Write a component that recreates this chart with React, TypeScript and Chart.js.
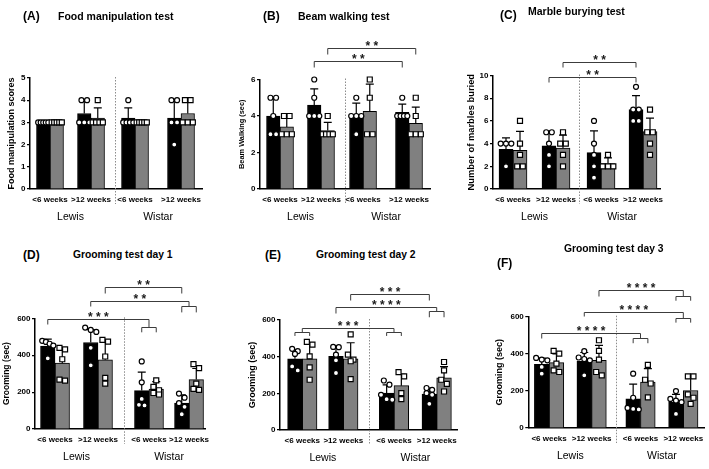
import React, { useEffect, useRef } from 'react';
import { Chart, registerables } from 'chart.js';

Chart.register(...registerables);

const FONT = '"Liberation Sans", Arial, Helvetica, sans-serif';
Chart.defaults.font.family = FONT;
Chart.defaults.color = '#000';

// ---------- shared labels ----------
const categories = ['<6 weeks', '>12 weeks', '<6 weeks', '>12 weeks'];
const groups = ['Lewis', 'Wistar'];

// ---------- (A) Food manipulation test ----------
const foodMeanBlack = [3.0, 3.4, 3.2, 3.2];
const foodMeanGray = [3.0, 3.2, 3.0, 3.4];
const foodSdBlack = [0, 0.55, 0.45, 0.84];
const foodSdGray = [0, 0.45, 0, 0.55];
const foodPtsBlack = [[3, 3, 3, 3, 3], [4, 4, 3, 3, 3], [4, 3, 3, 3, 3], [4, 4, 3, 3, 2]];
const foodPtsGray = [[3, 3, 3, 3, 3], [4, 3, 3, 3, 3], [3, 3, 3, 3, 3], [4, 4, 3, 3, 3]];

// ---------- (B) Beam walking test ----------
const beamMeanBlack = [4.0, 4.6, 4.0, 4.2];
const beamMeanGray = [3.4, 3.2, 4.25, 3.6];
const beamSdBlack = [1.0, 0.89, 0.71, 0.45];
const beamSdGray = [0.55, 0.45, 1.5, 0.89];
const beamPtsBlack = [[5, 5, 4, 3, 3], [6, 5, 4, 4, 4], [5, 4, 4, 4, 3], [5, 4, 4, 4, 4]];
const beamPtsGray = [[4, 4, 3, 3, 3], [4, 3, 3, 3, 3], [6, 5, 3, 3], [5, 4, 3, 3, 3]];

// ---------- (C) Marble burying test ----------
const marbleMeanBlack = [3.5, 3.8, 3.2, 7.0];
const marbleMeanGray = [3.4, 3.6, 2.25, 5.05];
const marbleSdBlack = [1.0, 1.3, 1.92, 1.22];
const marbleSdGray = [1.67, 1.14, 0.5, 1.2];
const marblePtsBlack = [[4, 4, 4, 2], [5, 5, 4, 3, 2], [6, 4, 3, 2, 1], [9, 7, 7, 6, 6]];
const marblePtsGray = [[6, 4, 3, 2, 2], [5, 4, 4, 3, 2], [3, 2, 2, 2], [7, 5, 5, 4, 3]];

// ---------- (D) Grooming test day 1 ----------
const day1MeanBlack = [449, 469, 208, 140];
const day1MeanGray = [357, 375, 217, 268];
const day1SdBlack = [38, 70, 100, 45];
const day1SdGray = [83, 107, 40, 60];
const day1PtsBlack = [[478, 472, 462, 452, 383], [550, 537, 526, 440, 345], [366, 253, 163, 131, 128], [192, 170, 140, 120, 80]];
const day1PtsGray = [[440, 432, 378, 268, 262], [483, 474, 393, 277, 246], [264, 228, 210, 195, 187], [352, 330, 246, 217, 212]];

// ---------- (E) Grooming test day 2 ----------
const day2MeanBlack = [388, 402, 201, 196];
const day2MeanGray = [388, 388, 242, 284];
const day2SdBlack = [50, 57, 45, 33];
const day2SdGray = [85, 88, 62, 62];
const day2PtsBlack = [[443, 430, 415, 347, 325], [453, 452, 411, 380, 311], [270, 247, 192, 168, 165], [229, 219, 201, 192, 143]];
const day2PtsGray = [[481, 466, 402, 342, 274], [522, 411, 384, 375, 278], [316, 292, 201, 168], [371, 325, 274, 252, 210]];

// ---------- (F) Grooming test day 3 ----------
const day3MeanBlack = [343, 360, 157, 139];
const day3MeanGray = [352, 365, 248, 202];
const day3SdBlack = [34, 47, 80, 42];
const day3SdGray = [48, 80, 72, 65];
const day3PtsBlack = [[378, 369, 365, 329, 293], [414, 380, 372, 365, 284], [293, 163, 108, 103, 100], [199, 157, 148, 139, 76]];
const day3PtsGray = [[416, 401, 347, 311, 302], [473, 416, 369, 302, 284], [340, 260, 240, 165], [278, 278, 181, 163, 130]];

// ---------- types ----------
type End = { cat: number; ser: 0 | 1 | 'both'; to: number; sub?: number };
type Bracket = { y: number; text: string; left: End; right: End };
type PanelCfg = {
  letter: string; title: string; yTitle: string;
  yMax: number; yStep: number;
  meanBlack: number[]; meanGray: number[]; sdBlack: number[]; sdGray: number[];
  ptsBlack: number[][]; ptsGray: number[][];
  brackets: Bracket[];
  canvas: { left: number; top: number; right: number };
  plot: { left: number; right: number; top: number; bottom: number };
  catPos: number[]; sep: number; barW: number;
  yTitleSize: number; yTitleX: number;
  letterPos: [number, number]; titlePos: [number, number]; titleSize: number;
};

const panels: PanelCfg[] = [
  {
    letter: '(A)', title: 'Food manipulation test', yTitle: 'Food manipulation scores',
    yMax: 5, yStep: 1,
    meanBlack: foodMeanBlack, meanGray: foodMeanGray, sdBlack: foodSdBlack, sdGray: foodSdGray,
    ptsBlack: foodPtsBlack, ptsGray: foodPtsGray, brackets: [],
    canvas: { left: 0, top: 20, right: 228 },
    plot: { left: 30, right: 202, top: 78, bottom: 189 },
    catPos: [-0.035, 0.919, 1.942, 3.012], sep: 1.477, barW: 13.5,
    yTitleSize: 9, yTitleX: 12,
    letterPos: [23, 16], titlePos: [58, 16], titleSize: 10.5,
  },
  {
    letter: '(B)', title: 'Beam walking test', yTitle: 'Beam Walking (sec)',
    yMax: 6, yStep: 2,
    meanBlack: beamMeanBlack, meanGray: beamMeanGray, sdBlack: beamSdBlack, sdGray: beamSdGray,
    ptsBlack: beamPtsBlack, ptsGray: beamPtsGray,
    brackets: [
      { y: 7.72, text: '**', left: { cat: 1, ser: 1, to: 7.38 }, right: { cat: 3, ser: 1, to: 7.38 } },
      { y: 6.99, text: '**', left: { cat: 1, ser: 0, to: 6.66 }, right: { cat: 3, ser: 0, to: 6.66 } },
    ],
    canvas: { left: 232, top: 30, right: 458 },
    plot: { left: 260, right: 430, top: 79.5, bottom: 188.5 },
    catPos: [-0.029, 0.935, 1.924, 3.006], sep: 1.5, barW: 13.5,
    yTitleSize: 7.4, yTitleX: 242,
    letterPos: [263, 16], titlePos: [298, 16], titleSize: 10.5,
  },
  {
    letter: '(C)', title: 'Marble burying test', yTitle: 'Number of marbles buried',
    yMax: 10, yStep: 2,
    meanBlack: marbleMeanBlack, meanGray: marbleMeanGray, sdBlack: marbleSdBlack, sdGray: marbleSdGray,
    ptsBlack: marblePtsBlack, ptsGray: marblePtsGray,
    brackets: [
      { y: 11.17, text: '**', left: { cat: 1, ser: 1, to: 10.73 }, right: { cat: 3, ser: 0, to: 10.73 } },
      { y: 9.91, text: '**', left: { cat: 1, ser: 0, to: 9.47 }, right: { cat: 3, ser: 0, to: 9.47 } },
    ],
    canvas: { left: 462, top: 40, right: 709 },
    plot: { left: 493, right: 660, top: 75.5, bottom: 188.7 },
    catPos: [-0.021, 1.009, 2.087, 3.093], sep: 1.55, barW: 14,
    yTitleSize: 9.4, yTitleX: 471,
    letterPos: [500, 15.5], titlePos: [528, 11], titleSize: 10.5,
  },
  {
    letter: '(D)', title: 'Grooming test day 1', yTitle: 'Grooming (sec)',
    yMax: 600, yStep: 200,
    meanBlack: day1MeanBlack, meanGray: day1MeanGray, sdBlack: day1SdBlack, sdGray: day1SdGray,
    ptsBlack: day1PtsBlack, ptsGray: day1PtsGray,
    brackets: [
      { y: 771, text: '**', left: { cat: 1, ser: 1, to: 735 }, right: { cat: 3, ser: 0, to: 735 } },
      { y: 695, text: '**', left: { cat: 1, ser: 0, to: 667 }, right: { cat: 3, ser: 'both', to: 667, sub: 632 } },
      { y: 595, text: '***', left: { cat: 0, ser: 0, to: 569 }, right: { cat: 2, ser: 'both', to: 554, sub: 524 } },
    ],
    canvas: { left: 0, top: 262, right: 228 },
    plot: { left: 35, right: 205, top: 318.3, bottom: 429 },
    catPos: [-0.029, 0.982, 2.182, 3.124], sep: 1.59, barW: 14.5,
    yTitleSize: 8.5, yTitleX: 7,
    letterPos: [23, 255], titlePos: [73, 255], titleSize: 10.3,
  },
  {
    letter: '(E)', title: 'Grooming test day 2', yTitle: 'Grooming (sec)',
    yMax: 600, yStep: 200,
    meanBlack: day2MeanBlack, meanGray: day2MeanGray, sdBlack: day2SdBlack, sdGray: day2SdGray,
    ptsBlack: day2PtsBlack, ptsGray: day2PtsGray,
    brackets: [
      { y: 742, text: '***', left: { cat: 1, ser: 1, to: 709 }, right: { cat: 3, ser: 0, to: 709 } },
      { y: 673, text: '****', left: { cat: 1, ser: 0, to: 640 }, right: { cat: 3, ser: 'both', to: 649, sub: 615 } },
      { y: 558, text: '***', left: { cat: 0, ser: 'both', to: 536, sub: 513 }, right: { cat: 2, ser: 'both', to: 536, sub: 513 } },
    ],
    canvas: { left: 232, top: 268, right: 468 },
    plot: { left: 280, right: 457, top: 320, bottom: 430 },
    catPos: [0.004, 0.931, 2.076, 3.041], sep: 1.5, barW: 14.7,
    yTitleSize: 9, yTitleX: 253,
    letterPos: [265, 255], titlePos: [316, 255], titleSize: 10.3,
  },
  {
    letter: '(F)', title: 'Grooming test day 3', yTitle: 'Grooming (sec)',
    yMax: 600, yStep: 200,
    meanBlack: day3MeanBlack, meanGray: day3MeanGray, sdBlack: day3SdBlack, sdGray: day3SdGray,
    ptsBlack: day3PtsBlack, ptsGray: day3PtsGray,
    brackets: [
      { y: 744, text: '****', left: { cat: 1, ser: 1, to: 711 }, right: { cat: 3, ser: 'both', to: 713, sub: 686 } },
      { y: 627, text: '****', left: { cat: 1, ser: 0, to: 604 }, right: { cat: 3, ser: 'both', to: 591, sub: 568 } },
      { y: 514, text: '****', left: { cat: 0, ser: 0, to: 484 }, right: { cat: 2, ser: 'both', to: 484, sub: 457 } },
    ],
    canvas: { left: 470, top: 268, right: 709 },
    plot: { left: 528.3, right: 706.7, top: 316.7, bottom: 428.3 },
    catPos: [-0.029, 0.935, 2.043, 3.013], sep: 1.49, barW: 14.7,
    yTitleSize: 9, yTitleX: 500,
    letterPos: [497, 263], titlePos: [564, 249], titleSize: 10.3,
  },
];

const X_H = 16;
const X2_H = 30;
const EXTRA_BOTTOM = 50;
const PT_R = 2.5;

// spread points with (nearly) equal values horizontally, like a scatter dot plot
function layoutPoints(vals: number[], ys: any, cx: number, barW: number, d: number) {
  const sorted = [...vals].sort((a, b) => b - a);
  const rows: number[][] = [];
  let cur: number[] = [];
  let anchor = 0;
  for (const v of sorted) {
    const py = ys.getPixelForValue(v);
    if (cur.length && py - anchor < d * 0.9) cur.push(v);
    else {
      if (cur.length) rows.push(cur);
      cur = [v];
      anchor = py;
    }
  }
  if (cur.length) rows.push(cur);
  const out: { x: number; y: number }[] = [];
  for (const row of rows) {
    const k = row.length;
    const sp = k > 1 ? Math.min(d, (barW - d * 0.6) / (k - 1)) : 0;
    row.forEach((v, i) => out.push({ x: cx + (i - (k - 1) / 2) * sp, y: ys.getPixelForValue(v) }));
  }
  return out;
}

function makeOverlay(cfg: PanelCfg) {
  return {
    id: 'overlay',
    afterDraw(chart: any) {
      const ctx: CanvasRenderingContext2D = chart.ctx;
      const ys = chart.scales.y;
      const xs = chart.scales.x;
      const ca = chart.chartArea;
      const metas = [chart.getDatasetMeta(0).data, chart.getDatasetMeta(1).data];
      const barX = (cat: number, ser: number) => metas[ser][cat].x as number;
      ctx.save();

      // dotted separator between strains
      const sx = Math.round(xs.getPixelForValue(cfg.sep)) + 0.5;
      ctx.strokeStyle = '#8c8c8c';
      ctx.lineWidth = 1;
      ctx.setLineDash([1.5, 1.5]);
      ctx.beginPath();
      ctx.moveTo(sx, ca.top - 1);
      ctx.lineTo(sx, ca.bottom + 15);
      ctx.stroke();
      ctx.setLineDash([]);

      // error bars (mean + SD)
      ctx.strokeStyle = '#000';
      ctx.lineWidth = 1.2;
      [cfg.meanBlack, cfg.meanGray].forEach((means, s) => {
        const sds = s === 0 ? cfg.sdBlack : cfg.sdGray;
        means.forEach((m, i) => {
          if (!sds[i]) return;
          const x = barX(i, s);
          const y0 = ys.getPixelForValue(m);
          const y1 = ys.getPixelForValue(m + sds[i]);
          ctx.beginPath();
          ctx.moveTo(x, y0);
          ctx.lineTo(x, y1);
          ctx.moveTo(x - 4, y1);
          ctx.lineTo(x + 4, y1);
          ctx.stroke();
        });
      });

      // individual points
      const r = PT_R;
      [cfg.ptsBlack, cfg.ptsGray].forEach((pts, s) => {
        pts.forEach((vals, i) => {
          const el = metas[s][i];
          layoutPoints(vals, ys, el.x, el.width, 2 * r + 0.6).forEach((p) => {
            ctx.beginPath();
            if (s === 0) ctx.arc(p.x, p.y, r, 0, Math.PI * 2);
            else ctx.rect(p.x - r, p.y - r, 2 * r, 2 * r);
            ctx.fillStyle = '#fff';
            ctx.fill();
            ctx.lineWidth = 1.2;
            ctx.strokeStyle = '#000';
            ctx.stroke();
          });
        });
      });

      // significance brackets
      const endX = (e: End) =>
        e.ser === 'both' ? (barX(e.cat, 0) + barX(e.cat, 1)) / 2 : barX(e.cat, e.ser as number);
      for (const b of cfg.brackets) {
        const xl = endX(b.left);
        const xr = endX(b.right);
        const y = Math.round(ys.getPixelForValue(b.y)) + 0.5;
        ctx.strokeStyle = '#3c3c3c';
        ctx.lineWidth = 1;
        ctx.beginPath();
        ctx.moveTo(xl, y);
        ctx.lineTo(xr, y);
        for (const e of [b.left, b.right]) {
          const x = endX(e);
          const yt = Math.round(ys.getPixelForValue(e.to)) + 0.5;
          ctx.moveTo(x, y);
          ctx.lineTo(x, yt);
          if (e.ser === 'both' && e.sub !== undefined) {
            const xa = barX(e.cat, 0);
            const xb = barX(e.cat, 1);
            const yb = ys.getPixelForValue(e.sub);
            ctx.moveTo(xa, yb);
            ctx.lineTo(xa, yt);
            ctx.lineTo(xb, yt);
            ctx.lineTo(xb, yb);
          }
        }
        ctx.stroke();
        ctx.fillStyle = '#1a1a1a';
        ctx.font = `bold 12px ${FONT}`;
        ctx.textAlign = 'center';
        ctx.textBaseline = 'alphabetic';
        ctx.fillText(b.text.split('').join(' '), (xl + xr) / 2, y + 1.5);
      }
      ctx.restore();
    },
  };
}

function buildConfig(cfg: PanelCfg): any {
  const yAxisW = cfg.plot.left - cfg.canvas.left;
  const titleLH = cfg.yTitleSize * 1.2;
  const groupPos = [(cfg.catPos[0] + cfg.catPos[1]) / 2, (cfg.catPos[2] + cfg.catPos[3]) / 2];
  const bars = (means: number[]) => means.map((m, i) => ({ x: cfg.catPos[i], y: m }));
  return {
    type: 'bar',
    data: {
      datasets: [
        {
          label: 'black', data: bars(cfg.meanBlack), backgroundColor: '#000', borderColor: '#000',
          borderWidth: 1, barThickness: cfg.barW,
        },
        {
          label: 'gray', data: bars(cfg.meanGray), backgroundColor: '#808080', borderColor: '#000',
          borderWidth: 1, barThickness: cfg.barW,
        },
      ],
    },
    options: {
      responsive: false,
      maintainAspectRatio: false,
      animation: false,
      events: [],
      layout: {
        padding: {
          left: 0,
          right: cfg.canvas.right - cfg.plot.right,
          top: cfg.plot.top - cfg.canvas.top,
          bottom: EXTRA_BOTTOM - X_H - X2_H,
        },
      },
      plugins: { legend: { display: false }, tooltip: { enabled: false }, title: { display: false } },
      scales: {
        x: {
          type: 'linear', position: 'bottom', min: -0.5, max: 3.5, bounds: 'data', offset: false, weight: 0,
          grid: { display: false, drawTicks: false, tickLength: 0 },
          border: { display: true, color: '#000', width: 1.5 },
          ticks: {
            autoSkip: false, maxRotation: 0, minRotation: 0, padding: 5.5, color: '#000',
            font: { size: 8, weight: 'bold' },
            callback: (_v: any, i: number) => categories[i],
          },
          afterBuildTicks: (axis: any) => { axis.ticks = cfg.catPos.map((v) => ({ value: v })); },
          afterFit: (s: any) => { s.height = X_H; },
        },
        x2: {
          type: 'linear', position: 'bottom', min: -0.5, max: 3.5, bounds: 'data', offset: false, weight: 1,
          grid: { display: false, drawTicks: false, tickLength: 0 },
          border: { display: false },
          ticks: {
            autoSkip: false, maxRotation: 0, minRotation: 0, padding: 6, color: '#000',
            font: { size: 10.5, weight: 'normal' },
            callback: (_v: any, i: number) => groups[i],
          },
          afterBuildTicks: (axis: any) => { axis.ticks = groupPos.map((v) => ({ value: v })); },
          afterFit: (s: any) => { s.height = X2_H; },
        },
        y: {
          type: 'linear', position: 'left', min: 0, max: cfg.yMax,
          grid: { display: true, drawOnChartArea: false, drawTicks: true, tickLength: 3, color: '#000', lineWidth: 1.2 },
          border: { display: true, color: '#000', width: 1.5 },
          ticks: { stepSize: cfg.yStep, padding: 1.5, color: '#000', font: { size: 8, weight: 'bold' } },
          title: {
            display: true, text: cfg.yTitle, color: '#000',
            font: { size: cfg.yTitleSize, weight: 'bold' },
            padding: { top: Math.max(0, cfg.yTitleX - cfg.canvas.left - titleLH / 2), bottom: 0 },
          },
          afterFit: (s: any) => { s.width = yAxisW; },
        },
      },
    },
    plugins: [makeOverlay(cfg)],
  };
}

function Panel({ cfg }: { cfg: PanelCfg }) {
  const ref = useRef<HTMLCanvasElement>(null);
  useEffect(() => {
    if (!ref.current) return;
    const chart = new Chart(ref.current, buildConfig(cfg));
    return () => chart.destroy();
  }, [cfg]);
  const w = cfg.canvas.right - cfg.canvas.left;
  const h = Math.round(cfg.plot.bottom - cfg.canvas.top + EXTRA_BOTTOM);
  const letterSize = 12;
  return (
    <>
      <canvas
        ref={ref}
        width={w}
        height={h}
        style={{ position: 'absolute', left: cfg.canvas.left, top: cfg.canvas.top, width: w, height: h }}
      />
      <div
        style={{
          position: 'absolute', left: cfg.letterPos[0], top: cfg.letterPos[1] - letterSize * 0.6,
          fontSize: letterSize, lineHeight: 1.2, fontWeight: 700, fontFamily: FONT, whiteSpace: 'nowrap', color: '#000',
        }}
      >
        {cfg.letter}
      </div>
      <div
        style={{
          position: 'absolute', left: cfg.titlePos[0], top: cfg.titlePos[1] - cfg.titleSize * 0.6,
          fontSize: cfg.titleSize, lineHeight: 1.2, fontWeight: 700, fontFamily: FONT, whiteSpace: 'nowrap', color: '#000',
        }}
      >
        {cfg.title}
      </div>
    </>
  );
}

export default function App() {
  return (
    <div style={{ position: 'absolute', left: 0, top: 0, width: 709, height: 469, background: '#fff', overflow: 'hidden' }}>
      {panels.map((p) => (
        <Panel key={p.letter} cfg={p} />
      ))}
    </div>
  );
}
